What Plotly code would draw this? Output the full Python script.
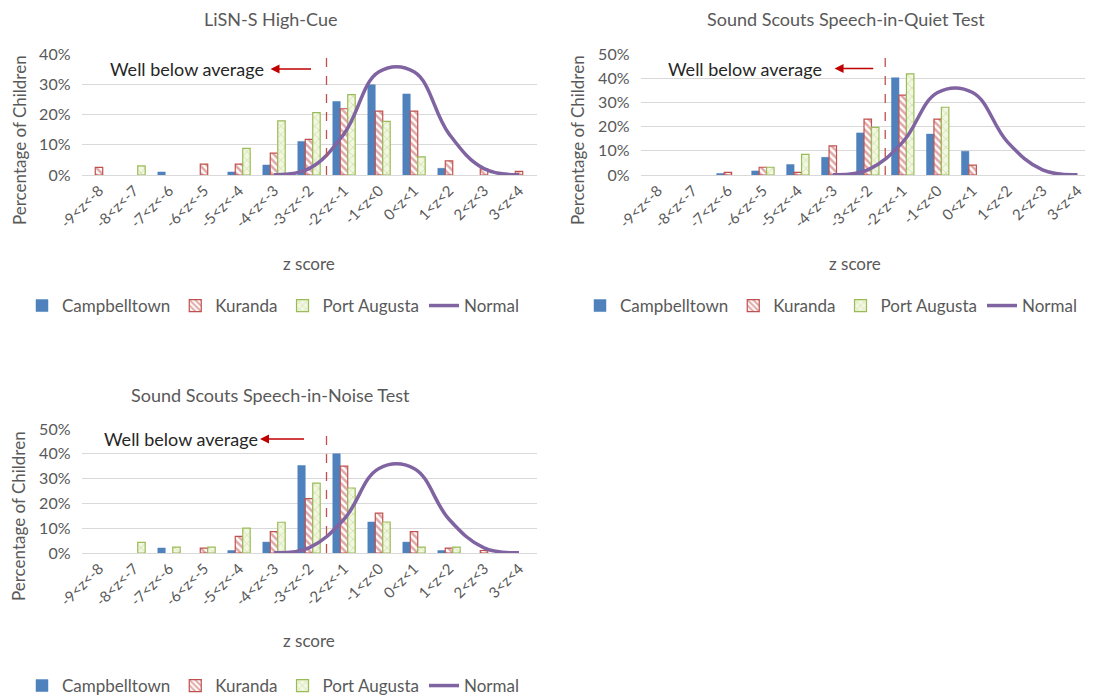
import plotly.graph_objects as go

categories = ["-9<z<-8", "-8<z<-7", "-7<z<-6", "-6<z<-5", "-5<z<-4", "-4<z<-3",
              "-3<z<-2", "-2<z<-1", "-1<z<0", "0<z<1", "1<z<2", "2<z<3", "3<z<4"]

# Panel 1: LiSN-S High-Cue
camp1 = [0, 0, 1.0, 0, 1.0, 3.3, 11.1, 24.3, 29.8, 26.8, 2.2, 0, 0]
kur1 = [2.5, 0, 0, 3.6, 3.6, 7.2, 11.8, 21.9, 21.1, 21.1, 4.7, 2.0, 1.2]
pa1 = [0, 3.0, 0, 0, 8.8, 17.9, 20.6, 26.6, 17.7, 6.0, 0, 0, 0]

# Panel 2: Sound Scouts Speech-in-Quiet Test
camp2 = [0, 0, 0.6, 1.7, 4.3, 7.3, 17.4, 40.2, 16.9, 9.8, 0, 0, 0]
kur2 = [0, 0, 1.1, 3.2, 1.1, 12.0, 23.1, 33.0, 23.1, 4.1, 0, 0, 0]
pa2 = [0, 0, 0, 3.2, 8.5, 0, 19.7, 41.8, 28.0, 0, 0, 0, 0]

# Panel 3: Sound Scouts Speech-in-Noise Test
camp3 = [0, 0, 2.0, 0, 1.0, 4.4, 35.3, 40.0, 12.5, 4.4, 1.0, 0, 0]
kur3 = [0, 0, 0, 2.0, 6.7, 8.6, 21.9, 35.0, 16.1, 8.6, 2.0, 1.0, 0]
pa3 = [0, 4.3, 2.4, 2.4, 10.0, 12.4, 28.2, 26.2, 12.5, 2.4, 2.4, 0, 0]

# Expected normal-distribution percentage per bin
normal = [None, None, None, None, None, 0.1, 2.1, 13.6, 34.1, 34.1, 13.6, 2.1, 0.1]

titles = ["LiSN-S High-Cue", "Sound Scouts Speech-in-Quiet Test", "Sound Scouts Speech-in-Noise Test"]
y_max = [40, 50, 50]

W, H = 1093, 699
OFF = 8  # page body margin
FONT = "Lato, 'Open Sans', sans-serif"
GRAY = "#595959"
BLUE = "#4F81BD"
RED = "#C0504D"
GREEN = "#9BBB59"
PURPLE = "#8064A2"


def px_x(v):
    return (v - OFF) / W


def px_y(v):
    return 1 - (v - OFF) / H


# panel geometry in screen pixels
panels = [
    dict(x0=81.5, x1=536.5, y0=54, y1=175, data=(camp1, kur1, pa1),
         title_xy=(270, 19), ztitle_xy=(309, 263), ytitle_xy=(19, 140), legend_xy=(273, 306),
         text_x=2.5, text_y=35, arr=(6.1, 4.9)),
    dict(x0=640.5, x1=1095, y0=54, y1=175, data=(camp2, kur2, pa2),
         title_xy=(846, 19), ztitle_xy=(855, 263), ytitle_xy=(577, 140), legend_xy=(831, 306),
         text_x=2.5, text_y=44, arr=(6.2, 5.05)),
    dict(x0=81.5, x1=536.5, y0=429, y1=553, data=(camp3, kur3, pa3),
         title_xy=(270, 395), ztitle_xy=(309, 640), ytitle_xy=(19, 516), legend_xy=(273, 686),
         text_x=2.35, text_y=46, arr=(5.9, 4.6)),
]

fig = go.Figure()
annotations = []
shapes = []
layout = {}


def nz(vals):
    return [v if v else None for v in vals]


for i, p in enumerate(panels):
    n = "" if i == 0 else str(i + 1)
    xa, ya = "x" + n, "y" + n
    lg = "legend" + n
    camp, kur, pa = p["data"]
    fig.add_trace(go.Bar(x=categories, y=nz(camp), name="Campbelltown", xaxis=xa, yaxis=ya,
                         legend=lg, marker=dict(color=BLUE, line=dict(color=BLUE, width=0.5))))
    fig.add_trace(go.Bar(x=categories, y=nz(kur), name="Kuranda", xaxis=xa, yaxis=ya, legend=lg,
                         marker=dict(color="white", line=dict(color=RED, width=1.2),
                                     pattern=dict(shape="\\", fgcolor=RED, bgcolor="white",
                                                  size=5, solidity=0.5, fillmode="overlay"))))
    fig.add_trace(go.Bar(x=categories, y=nz(pa), name="Port Augusta", xaxis=xa, yaxis=ya, legend=lg,
                         marker=dict(color="#F2F7E1", line=dict(color=GREEN, width=1.2),
                                     pattern=dict(shape="x", fgcolor=GREEN, bgcolor="#F2F7E1",
                                                  size=6, solidity=0.2, fillmode="overlay"))))
    fig.add_trace(go.Scatter(x=categories, y=normal, name="Normal", mode="lines", xaxis=xa, yaxis=ya,
                             legend=lg, connectgaps=False,
                             line=dict(color=PURPLE, width=3.5, shape="spline", smoothing=1.15)))

    layout["xaxis" + n] = dict(domain=[px_x(p["x0"]), px_x(p["x1"])], anchor=ya,
                               type="category", showgrid=False, showline=True, linecolor="#D9D9D9",
                               ticks="", tickangle=-45, automargin=False,
                               tickfont=dict(family=FONT, size=15, color=GRAY), fixedrange=True)
    layout["yaxis" + n] = dict(domain=[px_y(p["y1"]), px_y(p["y0"])], anchor=xa,
                               range=[0, y_max[i]], dtick=10, ticksuffix="%", showgrid=True,
                               gridcolor="#D9D9D9", gridwidth=1, zeroline=False, showline=False,
                               ticks="", ticklabelstandoff=10, automargin=False,
                               tickfont=dict(family=FONT, size=16, color=GRAY), fixedrange=True)
    layout[lg] = dict(orientation="h", x=px_x(p["legend_xy"][0]), y=px_y(p["legend_xy"][1]),
                      xanchor="center", yanchor="middle", font=dict(family=FONT, size=17, color=GRAY),
                      bgcolor="rgba(0,0,0,0)", itemwidth=30, tracegroupgap=0)

    tx, ty = p["title_xy"]
    annotations.append(dict(text=titles[i], x=px_x(tx), y=px_y(ty), xref="paper", yref="paper",
                            xanchor="center", yanchor="middle", showarrow=False,
                            font=dict(family=FONT, size=18, color=GRAY)))
    zx, zy = p["ztitle_xy"]
    annotations.append(dict(text="z score", x=px_x(zx), y=px_y(zy), xref="paper", yref="paper",
                            xanchor="center", yanchor="middle", showarrow=False,
                            font=dict(family=FONT, size=17, color=GRAY)))
    yx, yy = p["ytitle_xy"]
    annotations.append(dict(text="Percentage of Children", x=px_x(yx), y=px_y(yy), xref="paper",
                            yref="paper", xanchor="center", yanchor="middle", textangle=-90,
                            showarrow=False, font=dict(family=FONT, size=17, color=GRAY)))
    annotations.append(dict(text="Well below average", x=p["text_x"], y=p["text_y"], xref=xa, yref=ya,
                            xanchor="center", yanchor="middle", showarrow=False,
                            font=dict(family=FONT, size=18, color="#262626")))
    a0, a1 = p["arr"]
    annotations.append(dict(text="", x=a1, y=p["text_y"], ax=a0, ay=p["text_y"], xref=xa, yref=ya,
                            axref=xa, ayref=ya, showarrow=True, arrowhead=2, arrowsize=1.2,
                            arrowwidth=1.5, arrowcolor="#C00000"))
    shapes.append(dict(type="line", xref=xa, yref=ya + " domain", x0=6.5, x1=6.5, y0=0, y1=1,
                       line=dict(color=RED, width=1.3, dash="dash")))

fig.update_layout(width=W, height=H, margin=dict(l=0, r=0, t=0, b=0, autoexpand=False),
                  paper_bgcolor="white", plot_bgcolor="white",
                  barmode="group", bargap=0.36, bargroupgap=0,
                  annotations=annotations, shapes=shapes, showlegend=True,
                  font=dict(family=FONT, color=GRAY), **layout)

fig.write_html("out.html")
